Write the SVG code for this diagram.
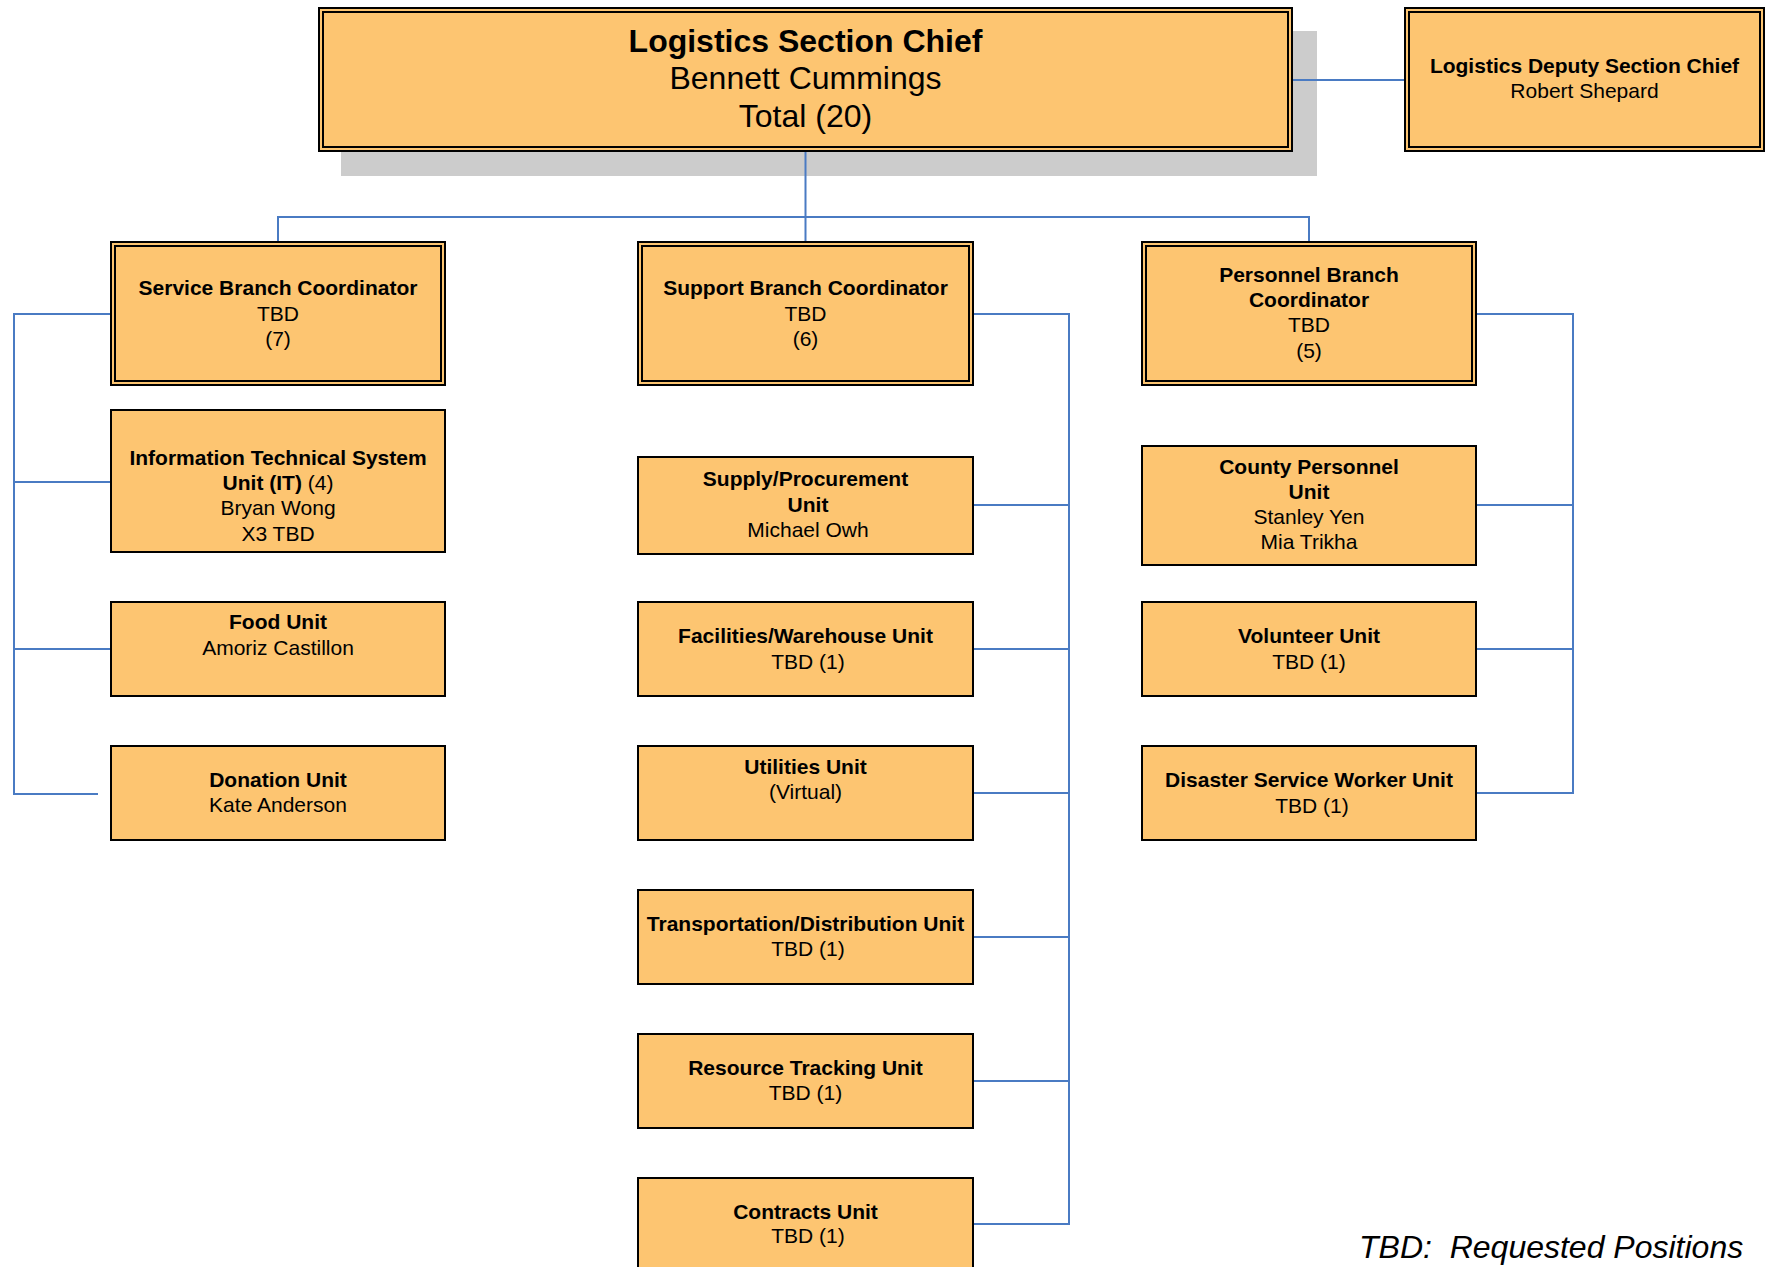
<svg xmlns="http://www.w3.org/2000/svg" width="1775" height="1267" viewBox="0 0 1775 1267">
<style>
.box{fill:#FDC571;stroke:#000;stroke-width:2}
.inner{fill:none;stroke:#000;stroke-width:2}
.con{fill:none;stroke:#4A7BC3;stroke-width:2}
text{font-family:"Liberation Sans",Arial,sans-serif;font-size:21px;fill:#000;text-anchor:middle}
.b{font-weight:bold}
.big{font-size:32px}
</style>
<rect x="0" y="0" width="1775" height="1267" fill="#FFFFFF"/>
<rect id="chief-shadow" x="341" y="31" width="976" height="145" fill="#CCCCCC"/>
<g id="connectors">
<path class="con" d="M1293,80 H1404"/>
<path class="con" d="M805.5,152 V217 M278,241 V217 H1309 V241 M805.5,217 V241"/>
<path class="con" d="M110,314 H14 V794 H98 M14,482 H110 M14,649 H110"/>
<path class="con" d="M974,314 H1069 V1224 H974 M1069,505 H974 M1069,649 H974 M1069,793 H974 M1069,937 H974 M1069,1081 H974"/>
<path class="con" d="M1477,314 H1573 V793 H1477 M1573,505 H1477 M1573,649 H1477"/>
</g>
<g id="chief">
<rect class="box" x="319" y="8" width="973" height="143"/>
<rect class="inner" x="323" y="12" width="965" height="135"/>
<text class="b big" x="805.5" y="52">Logistics Section Chief</text>
<text class="big" x="805.5" y="89">Bennett Cummings</text>
<text class="big" x="805.5" y="127">Total (20)</text>
</g>
<g id="deputy">
<rect class="box" x="1405" y="8" width="359" height="143"/>
<rect class="inner" x="1409" y="12" width="351" height="135"/>
<text class="b" x="1584.5" y="73">Logistics Deputy Section Chief</text>
<text x="1584.5" y="98">Robert Shepard</text>
</g>
<g id="service">
<rect class="box" x="111" y="242" width="334" height="143"/>
<rect class="inner" x="115" y="246" width="326" height="135"/>
<text class="b" x="278" y="295">Service Branch Coordinator</text>
<text x="278" y="320.5">TBD</text>
<text x="278" y="346">(7)</text>
</g>
<g id="support">
<rect class="box" x="638" y="242" width="335" height="143"/>
<rect class="inner" x="642" y="246" width="327" height="135"/>
<text class="b" x="805.5" y="295">Support Branch Coordinator</text>
<text x="805.5" y="320.5">TBD</text>
<text x="805.5" y="346">(6)</text>
</g>
<g id="personnel">
<rect class="box" x="1142" y="242" width="334" height="143"/>
<rect class="inner" x="1146" y="246" width="326" height="135"/>
<text class="b" x="1309" y="282">Personnel Branch</text>
<text class="b" x="1309" y="307">Coordinator</text>
<text x="1309" y="332">TBD</text>
<text x="1309" y="358">(5)</text>
</g>
<g id="it-unit">
<rect class="box" x="111" y="410" width="334" height="142"/>
<text class="b" x="278" y="465">Information Technical System</text>
<text x="278" y="490"><tspan class="b">Unit (IT)</tspan> (4)</text>
<text x="278" y="515">Bryan Wong</text>
<text x="278" y="541">X3 TBD</text>
</g>
<g id="food-unit">
<rect class="box" x="111" y="602" width="334" height="94"/>
<text class="b" x="278" y="629">Food Unit</text>
<text x="278" y="655">Amoriz Castillon</text>
</g>
<g id="donation-unit">
<rect class="box" x="111" y="746" width="334" height="94"/>
<text class="b" x="278" y="787">Donation Unit</text>
<text x="278" y="812">Kate Anderson</text>
</g>
<g id="supply-unit">
<rect class="box" x="638" y="457" width="335" height="97"/>
<text class="b" x="805.5" y="486">Supply/Procurement</text>
<text class="b" x="808" y="511.5">Unit</text>
<text x="808" y="537">Michael Owh</text>
</g>
<g id="facilities-unit">
<rect class="box" x="638" y="602" width="335" height="94"/>
<text class="b" x="805.5" y="643">Facilities/Warehouse Unit</text>
<text x="808" y="669">TBD (1)</text>
</g>
<g id="utilities-unit">
<rect class="box" x="638" y="746" width="335" height="94"/>
<text class="b" x="805.5" y="774">Utilities Unit</text>
<text x="805.5" y="799">(Virtual)</text>
</g>
<g id="transportation-unit">
<rect class="box" x="638" y="890" width="335" height="94"/>
<text class="b" x="805.5" y="931">Transportation/Distribution Unit</text>
<text x="808" y="956">TBD (1)</text>
</g>
<g id="resource-tracking-unit">
<rect class="box" x="638" y="1034" width="335" height="94"/>
<text class="b" x="805.5" y="1075">Resource Tracking Unit</text>
<text x="805.5" y="1100">TBD (1)</text>
</g>
<g id="contracts-unit">
<rect class="box" x="638" y="1178" width="335" height="100"/>
<text class="b" x="805.5" y="1219">Contracts Unit</text>
<text x="808" y="1243">TBD (1)</text>
</g>
<g id="county-personnel-unit">
<rect class="box" x="1142" y="446" width="334" height="119"/>
<text class="b" x="1309" y="474">County Personnel</text>
<text class="b" x="1309" y="498.5">Unit</text>
<text x="1309" y="524">Stanley Yen</text>
<text x="1309" y="549">Mia Trikha</text>
</g>
<g id="volunteer-unit">
<rect class="box" x="1142" y="602" width="334" height="94"/>
<text class="b" x="1309" y="643">Volunteer Unit</text>
<text x="1309" y="669">TBD (1)</text>
</g>
<g id="dsw-unit">
<rect class="box" x="1142" y="746" width="334" height="94"/>
<text class="b" x="1309" y="787">Disaster Service Worker Unit</text>
<text x="1312" y="812.5">TBD (1)</text>
</g>
<text x="1359" y="1258" xml:space="preserve" style="font-size:32px;font-style:italic;text-anchor:start">TBD:  Requested Positions</text>
</svg>
